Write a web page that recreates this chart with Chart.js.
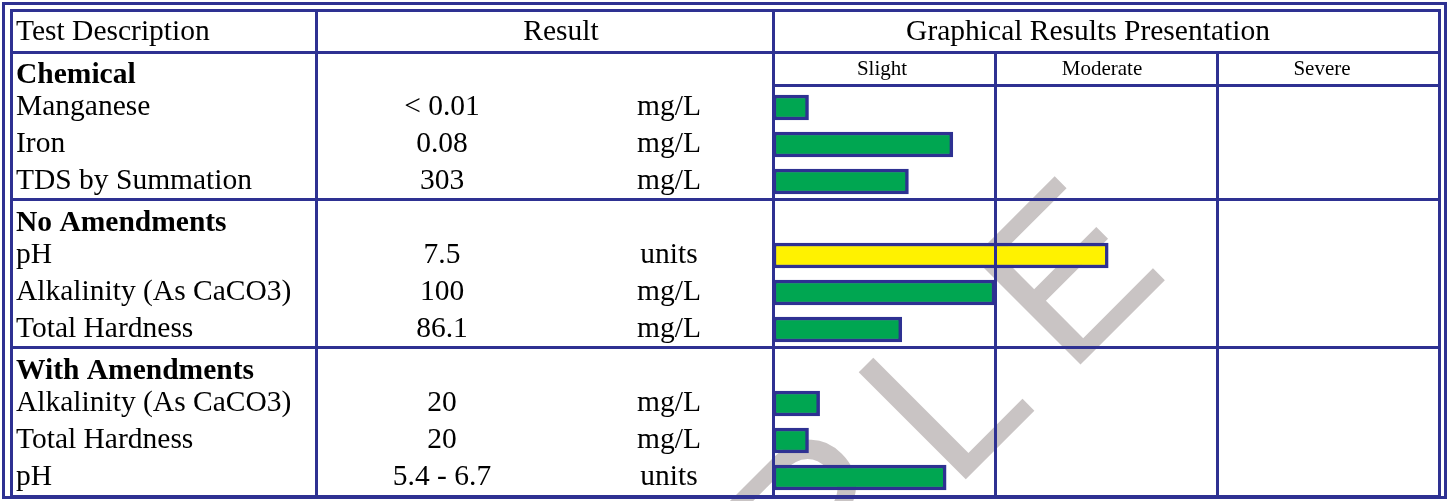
<!DOCTYPE html>
<html>
<head>
<meta charset="utf-8">
<script src="https://cdn.jsdelivr.net/npm/chart.js@4.4.1/dist/chart.umd.min.js"></script>
<style>
  html, body { margin: 0; padding: 0; background: #fff; }
  #wrap { width: 1450px; height: 501px; }
</style>
</head>
<body>
<div id="wrap"><canvas id="chart" width="1450" height="501"></canvas></div>
<script>
// Report rows, section headers included (they carry no bar)
const rowLabels = ['Chemical', 'Manganese', 'Iron', 'TDS by Summation',
    'No Amendments', 'pH', 'Alkalinity (As CaCO3)', 'Total Hardness',
    'With Amendments', 'Alkalinity (As CaCO3)', 'Total Hardness', 'pH'];
const sectionRows = [0, 4, 8];
const resultValues = ['', '< 0.01', '0.08', '303', '', '7.5', '100', '86.1', '', '20', '20', '5.4 - 6.7'];
const resultUnits = ['', 'mg/L', 'mg/L', 'mg/L', '', 'units', 'mg/L', 'mg/L', '', 'mg/L', 'mg/L', 'units'];
// bar length on the severity scale: 0-1 slight, 1-2 moderate, 2-3 severe
const severity = [null, 0.16, 0.81, 0.61, null, 1.51, 1.0, 0.58, null, 0.21, 0.16, 0.78];
const severityLabels = ['Slight', 'Moderate', 'Severe'];
const headerLabels = ['Test Description', 'Result', 'Graphical Results Presentation'];

const LINE = '#2e3192';
const SERIF = '"Liberation Serif", "Times New Roman", serif';

// snap to pixel centre so 3px rules stay crisp
const px = (v) => Math.round(v) + 0.5;

function hLine(ctx, x1, x2, y) {
    ctx.beginPath();
    ctx.moveTo(x1, px(y));
    ctx.lineTo(x2, px(y));
    ctx.stroke();
}

function vLine(ctx, x, y1, y2) {
    ctx.beginPath();
    ctx.moveTo(px(x), y1);
    ctx.lineTo(px(x), y2);
    ctx.stroke();
}

const reportTable = {
    id: 'reportTable',
    beforeDatasetsDraw(chart) {
        // faint watermark behind the bars
        const ctx = chart.ctx;
        ctx.save();
        ctx.fillStyle = '#c9c4c4';
        ctx.font = '220px "Liberation Sans", Arial, sans-serif';
        ctx.letterSpacing = '40px';
        ctx.textAlign = 'left';
        ctx.textBaseline = 'alphabetic';
        ctx.translate(399, 1046);
        ctx.rotate(-Math.PI / 4);
        ctx.fillText('SAMPLE', 0, 0);
        ctx.restore();
    },
    afterDatasetsDraw(chart) {
        const { ctx, chartArea: area, scales: { x, y } } = chart;
        const innerTop = 10, innerLeft = 11, innerBottom = 496;
        const descCol = 316;
        const subHeadBottom = 85;
        const rowEdge = (i) => (y.getPixelForValue(i) + y.getPixelForValue(i + 1)) / 2;

        ctx.save();
        ctx.strokeStyle = LINE;
        ctx.lineWidth = 3;

        // double outer frame
        hLine(ctx, 2, 1447, 3);
        vLine(ctx, 3, 2, 499);
        vLine(ctx, 1445, 2, 499);
        hLine(ctx, 2, 1447, 497);
        ctx.strokeRect(px(innerLeft), px(innerTop), Math.round(area.right) - innerLeft, innerBottom - innerTop);

        // column and row rules
        vLine(ctx, descCol, innerTop, innerBottom);
        vLine(ctx, area.left, innerTop, innerBottom);
        for (let k = 1; k < severityLabels.length; k++) {
            vLine(ctx, x.getPixelForValue(k), area.top, innerBottom);
        }
        hLine(ctx, innerLeft, area.right, area.top);
        hLine(ctx, area.left, area.right, subHeadBottom);
        sectionRows.slice(1).forEach(r => hLine(ctx, innerLeft, area.right, rowEdge(r - 1) - 1));

        // header texts
        ctx.fillStyle = '#000';
        ctx.textBaseline = 'middle';
        ctx.font = '29.5px ' + SERIF;
        const headY = (innerTop + area.top) / 2 + 1;
        ctx.textAlign = 'left';
        ctx.fillText(headerLabels[0], 16, headY);
        ctx.textAlign = 'center';
        ctx.fillText(headerLabels[1], 561, headY);
        ctx.fillText(headerLabels[2], 1088, headY);

        ctx.font = '21px ' + SERIF;
        severityLabels.forEach((s, k) => {
            ctx.fillText(s, x.getPixelForValue(k + 0.5) - 2 - 2 * k, (area.top + subHeadBottom) / 2 + 1);
        });

        // row texts
        rowLabels.forEach((label, i) => {
            const isSection = sectionRows.includes(i);
            const ry = y.getPixelForValue(i) + (isSection ? 5 : 0);
            ctx.textAlign = 'left';
            ctx.font = (isSection ? 'bold ' : '') + '29.5px ' + SERIF;
            ctx.fillText(label, 16, ry);
            ctx.font = '29.5px ' + SERIF;
            ctx.textAlign = 'center';
            if (resultValues[i]) ctx.fillText(resultValues[i], 442, ry);
            if (resultUnits[i]) ctx.fillText(resultUnits[i], 669, ry);
        });
        ctx.restore();
    }
};

new Chart(document.getElementById('chart'), {
    type: 'bar',
    data: {
        labels: rowLabels,
        datasets: [{
            data: severity,
            backgroundColor: severity.map(v => v > 1 ? '#fff200' : '#00a651'),
            borderColor: LINE,
            borderWidth: 3.5,
            borderSkipped: false,
            barThickness: 25
        }]
    },
    options: {
        indexAxis: 'y',
        responsive: false,
        devicePixelRatio: 1,
        animation: false,
        layout: {
            padding: { left: 773, right: 11, top: 52, bottom: 5 }
        },
        plugins: {
            legend: { display: false },
            tooltip: { enabled: false }
        },
        scales: {
            x: { min: 0, max: 3, display: false },
            y: { display: false }
        }
    },
    plugins: [reportTable]
});
</script>
</body>
</html>
